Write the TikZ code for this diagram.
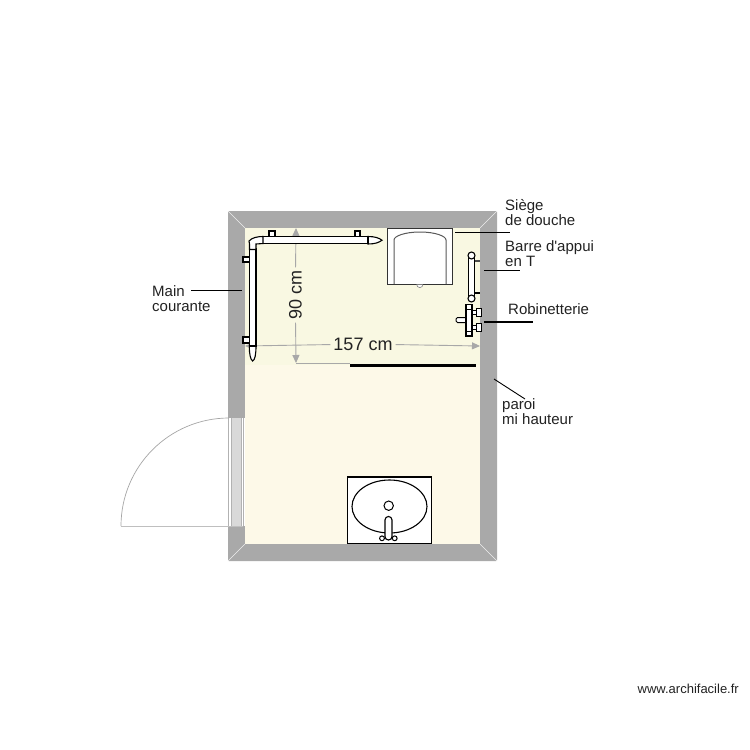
\documentclass[tikz,border=0pt]{standalone}
\usepackage{fontspec}
\setmainfont{Liberation Sans}
\newfontfamily\lblfont{Liberation Sans}
\usetikzlibrary{arrows.meta}
\definecolor{wallc}{HTML}{A9A9A9}
\definecolor{floorup}{HTML}{F9F8E2}
\definecolor{floorlow}{HTML}{FDF9E8}
\definecolor{dimc}{HTML}{A8A8A8}
\definecolor{txtc}{HTML}{222222}
\tikzset{
  x=1pt,y=-1pt,
  lbl/.style={font=\lblfont\fontsize{15}{15.3}\selectfont,text=txtc,align=left,inner sep=0pt,anchor=north west},
  dimlbl/.style={font=\lblfont\fontsize{18}{18}\selectfont,text=txtc,inner sep=0pt},
  dimline/.style={draw=dimc,line width=0.9pt,-{Triangle[width=7pt,length=8pt]},shorten <=3pt},
  leader/.style={draw=black,line width=0.9pt},
  fixt/.style={draw=black,line width=1.3pt,fill=white},
  barre/.style={draw=black,line width=1.1pt,fill=white},
}
\begin{document}
\begin{tikzpicture}
\useasboundingbox (0,0) rectangle (750,750);
\fill[white] (0,0) rectangle (750,750);
% walls and floor
\fill[wallc,rounded corners=1pt] (228,211) rectangle (497,561);
\fill[floorup] (245,228) rectangle (480,365);
\fill[floorlow] (245,365) rectangle (480,544);
\draw[white!80!wallc,line width=0.5pt] (228,211)--(245,228) (497,211)--(480,228) (228,561)--(245,544) (497,561)--(480,544);
% door
\fill[white] (228,418) rectangle (245,526);
\fill[white!85!black] (231,418) rectangle (241,526);
\draw[black!30,line width=0.8pt] (228.5,418)--(228.5,526) (231,418)--(231,526) (241,418)--(241,526) (243.5,418)--(243.5,526);
\draw[black!35,line width=0.7pt] (229,418) arc[start angle=-90,end angle=-180,radius=108];
\draw[black!25,line width=1pt] (121,526)--(243,526);
% dimensions
\coordinate (vtop) at (296,228);
\coordinate (vbot) at (296,363);
\coordinate (hleft) at (245,346);
\coordinate (hright) at (480,346);
\node[dimlbl,rotate=90] (d90) at (295.5,295) {90 cm};
\node[dimlbl] (d157) at (363,344.5) {157 cm};
\draw[dimline] (d90.east) -- (vtop);
\draw[dimline] (d90.west) -- (vbot);
\draw[dimline] (d157.west) -- (hleft);
\draw[dimline] (d157.east) -- (hright);
\coordinate (ext) at (350,363);
\draw[dimc,line width=0.8pt] (vbot) -- (ext);
% partition
\coordinate (pa) at (350,365.5);
\coordinate (pb) at (476,365.5);
\draw[black,line width=2.2pt] (pa) -- (pb);
% grab rail top
\fill[fixt] (269,231) rectangle (275,237);
\fill[fixt] (355,231) rectangle (360,237);
\draw[barre] (368,236.5) .. controls (375,236.5) and (379,238) .. (382,240.2) .. controls (379,242.5) and (375,244) .. (368,244) -- cycle;
\fill[barre] (262,236.8) rectangle (368,243.2);
\draw[black,line width=1.4pt] (262,243.2) -- (368,243.2);
% grab rail left
\fill[fixt] (243,257) rectangle (250,262);
\fill[fixt] (243,337) rectangle (250,343);
\draw[barre] (249.3,346) .. controls (249.3,354) and (250.5,360) .. (252.7,361) .. controls (255,360) and (256,354) .. (256,346) -- cycle;
\fill[barre] (249.5,249) rectangle (256,346);
\draw[black,line width=1.4pt] (256,249) -- (256,346);
\draw[barre] (249,241) .. controls (252,237.5) and (258,236.5) .. (263,236.5) -- (263,243.5) -- (256,244) -- (256,249.5) -- (249.5,249.5) -- (249.5,244) -- cycle;
% shower seat
\fill[fixt,line width=1pt,draw=black!80] (387.5,228) rectangle (452.5,284);
\draw[black!65,line width=1pt] (394,284) -- (394,240) .. controls (394,236) and (405,232) .. (420,232) .. controls (435,232) and (446,236) .. (446,240) -- (446,284);
\draw[black!50,fill=white,line width=0.6pt] (416.7,284.5) arc[start angle=180,end angle=0,radius=3.1];
% T rail
\draw[black!70,line width=1.3pt] (474,261) -- (480,261);
\draw[black,line width=1.8pt] (474,293) -- (480,293);
\fill[fixt,line width=1.1pt] (468.5,256) rectangle (474.5,298);
\draw[barre] (471.5,255.5) circle[radius=3.5];
\draw[barre] (471.5,298.5) circle[radius=3.5];
% tap
\draw[barre,line width=1pt,rounded corners=1.5pt] (456,317.5) rectangle (467,322.5);
\fill[fixt,line width=1pt] (472,310.5) rectangle (476,314);
\fill[fixt,line width=1pt] (472,325.5) rectangle (476,329);
\draw[barre,line width=1pt] (476.5,308) rectangle (481,316.5);
\draw[barre,line width=1pt] (476.5,323) rectangle (481,331.5);
\fill[fixt] (466,304.5) rectangle (472,336);
\draw[black,line width=1pt] (466,309.5) -- (472,309.5) (466,331) -- (472,331);
% washbasin
\fill[fixt,line width=1.2pt] (347.5,477) rectangle (431.5,543.5);
\draw[black,line width=1.1pt,fill=white] (389.5,506.5) ellipse[x radius=37.5,y radius=26.5];
\draw[black,line width=1pt,fill=white] (388.7,505.7) circle[radius=4.7];
\draw[black,line width=1pt,fill=white] (382,538.3) circle[radius=2.4];
\draw[black,line width=1pt,fill=white] (394.7,538.3) circle[radius=2.4];
\draw[black,line width=1.1pt,fill=white,rounded corners=3.4pt] (385,540) -- (385,516.5) -- (392,516.5) -- (392,540) -- cycle;
% labels
\node[lbl] (tmain) at (152,285) {Main\\courante};
\coordinate (lmain) at (242,290);
\draw[leader] (191,290) -- (lmain);
\node[lbl] (tsiege) at (505,199) {Siège\\de douche};
\coordinate (lsa) at (455,232);
\coordinate (lsb) at (510,232);
\draw[leader] (lsa) -- (lsb);
\node[lbl] (tbarre) at (505,240) {Barre d'appui\\en T};
\coordinate (lba) at (484,270);
\coordinate (lbb) at (520,270);
\draw[leader] (lba) -- (lbb);
\node[lbl] (trob) at (508,303) {Robinetterie};
\coordinate (lra) at (484,322);
\coordinate (lrb) at (533,322);
\draw[black,line width=1.6pt] (lra) -- (lrb);
\node[lbl] (tparoi) at (502,398) {paroi\\mi hauteur};
\coordinate (lpa) at (494,379);
\coordinate (lpb) at (525,399);
\draw[leader] (lpa) -- (lpb);
\node[font=\lblfont\fontsize{13}{14}\selectfont,text=txtc,inner sep=0pt,anchor=east] (wm) at (739,689) {www.archifacile.fr};
\end{tikzpicture}
\end{document}
